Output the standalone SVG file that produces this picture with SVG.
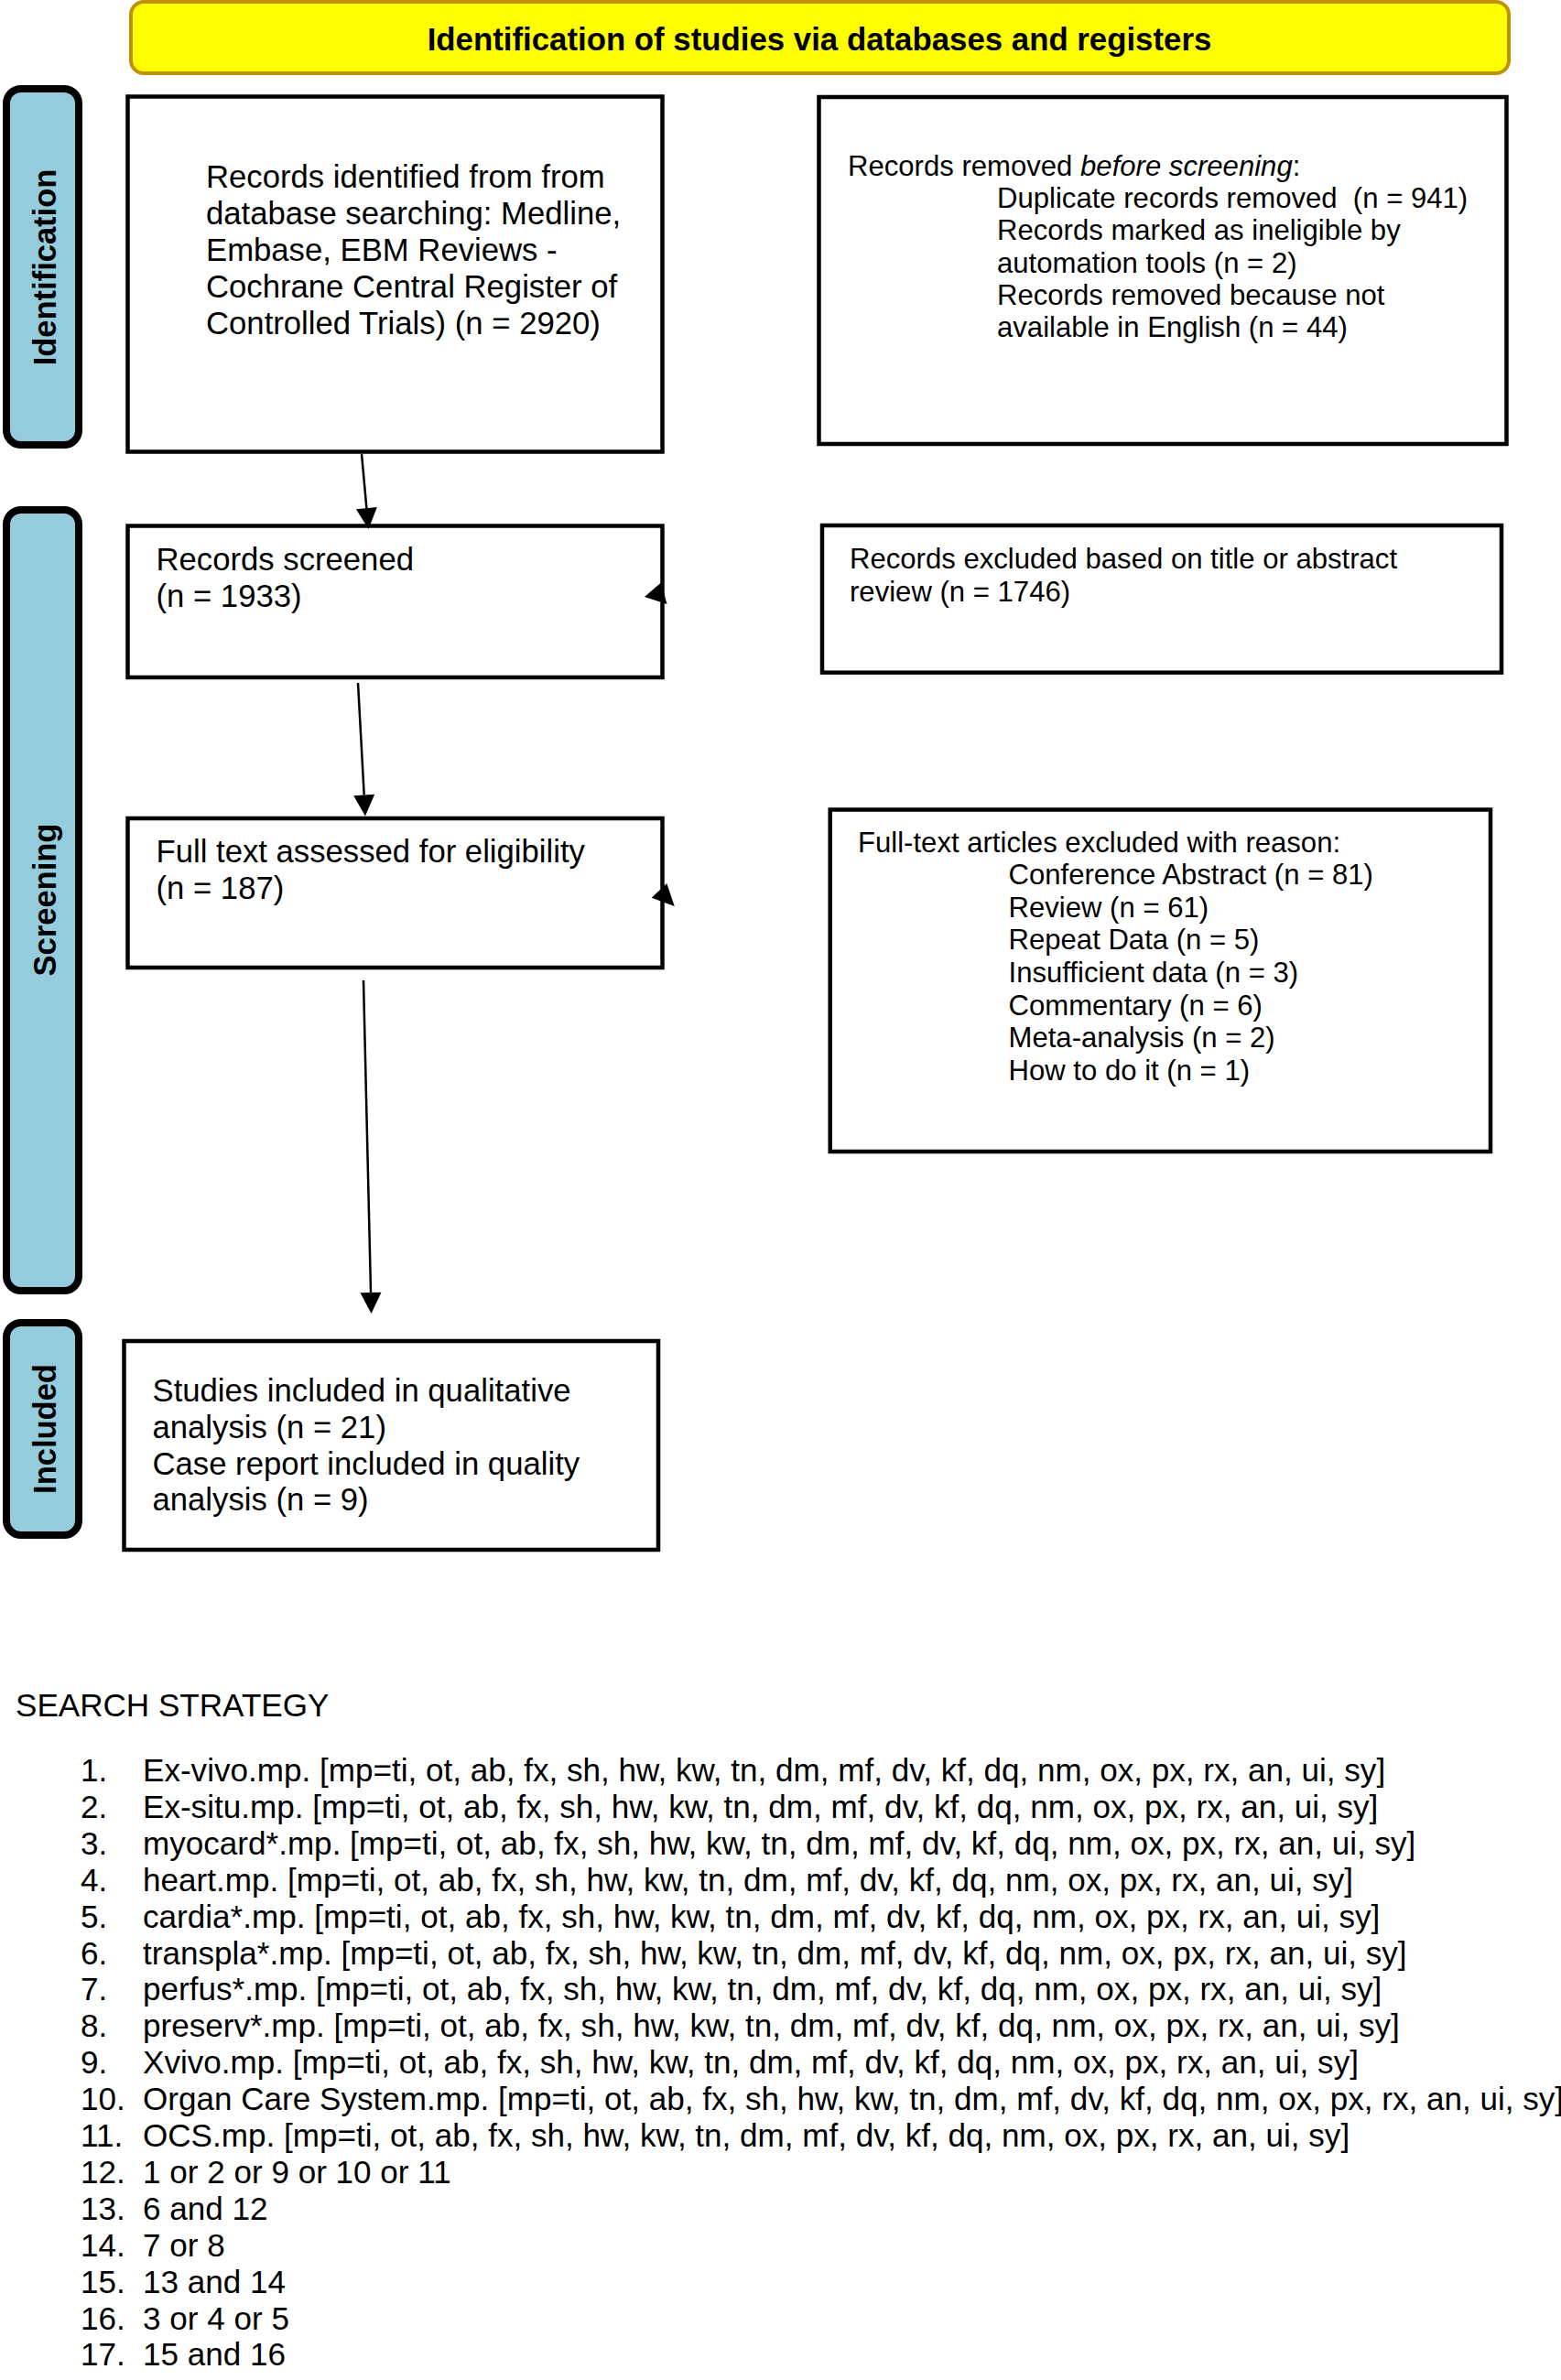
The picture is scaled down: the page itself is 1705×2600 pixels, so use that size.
<svg xmlns="http://www.w3.org/2000/svg" width="1705" height="2600" viewBox="0 0 1705 2600">
<style>
text{font-family:"Liberation Sans",Arial,sans-serif;fill:#000}
.big{font-size:34.7px}
.list{font-size:35.1px}
.sm{font-size:31.1px}
.side{font-size:34.5px;font-weight:bold;text-anchor:middle}
.box{fill:#fff;stroke:#000;stroke-width:4.5}
.bar{fill:#95CCDD;stroke:#000;stroke-width:8}
.con{stroke:#000;stroke-width:2.5;fill:none;marker-end:url(#ah)}
</style>
<defs>
<marker id="ah" markerUnits="userSpaceOnUse" markerWidth="24" markerHeight="24" refX="0" refY="11.5" orient="auto" viewBox="0 0 24 24" overflow="visible">
<path d="M0,0 L23,11.5 L0,23 z" fill="#000"/>
</marker>
</defs>
<rect width="1705" height="2600" fill="#fff"/>

<g id="banner">
<rect x="143" y="2" width="1505" height="78" rx="14" fill="#FFFF00" stroke="#BF9000" stroke-width="4"/>
<text x="895" y="54.5" font-size="34.8" font-weight="bold" text-anchor="middle">Identification of studies via databases and registers</text>
</g>

<g id="bar-identification">
<rect class="bar" x="7" y="97" width="79" height="389" rx="16"/>
<text class="side" transform="translate(60.5,292) rotate(-90)">Identification</text>
</g>
<g id="bar-screening">
<rect class="bar" x="7" y="557" width="79" height="853" rx="16"/>
<text class="side" transform="translate(61,983) rotate(-90)">Screening</text>
</g>
<g id="bar-included">
<rect class="bar" x="7" y="1445" width="79" height="232" rx="16"/>
<text class="side" transform="translate(61,1561) rotate(-90)">Included</text>
</g>

<g id="records-identified">
<rect class="box" x="139.5" y="105.5" width="584" height="388"/>
<text class="big"><tspan x="225" y="205">Records identified from from</tspan><tspan x="225" y="245">database searching: Medline,</tspan><tspan x="225" y="285">Embase, EBM Reviews -</tspan><tspan x="225" y="325">Cochrane Central Register of</tspan><tspan x="225" y="365">Controlled Trials) (n = 2920)</tspan></text>
</g>

<g id="records-removed">
<rect class="box" x="894.5" y="106" width="751" height="379"/>
<text class="sm" style="white-space:pre"><tspan x="926" y="192">Records removed <tspan font-style="italic">before screening</tspan>:</tspan><tspan x="1089" y="227.2">Duplicate records removed  (n = 941)</tspan><tspan x="1089" y="262.4">Records marked as ineligible by</tspan><tspan x="1089" y="297.6">automation tools (n = 2)</tspan><tspan x="1089" y="332.8">Records removed because not</tspan><tspan x="1089" y="368">available in English (n = 44)</tspan></text>
</g>

<g id="records-screened">
<rect class="box" x="139.5" y="574.5" width="584" height="165.5"/>
<text class="big"><tspan x="170.5" y="623">Records screened</tspan><tspan x="170.5" y="663">(n = 1933)</tspan></text>
</g>

<g id="records-excluded">
<rect class="box" x="898" y="574" width="742" height="160.7"/>
<text class="sm"><tspan x="928" y="620.5">Records excluded based on title or abstract</tspan><tspan x="928" y="656.5">review (n = 1746)</tspan></text>
</g>

<g id="full-text">
<rect class="box" x="139.5" y="894" width="584" height="163"/>
<text class="big"><tspan x="170.5" y="941.5">Full text assessed for eligibility</tspan><tspan x="170.5" y="981.5">(n = 187)</tspan></text>
</g>

<g id="full-text-excluded">
<rect class="box" x="906.7" y="884.5" width="721.3" height="373.5"/>
<text class="sm"><tspan x="937" y="930.5">Full-text articles excluded with reason:</tspan><tspan x="1101.5" y="966.2">Conference Abstract (n = 81)</tspan><tspan x="1101.5" y="1001.8">Review (n = 61)</tspan><tspan x="1101.5" y="1037.4">Repeat Data (n = 5)</tspan><tspan x="1101.5" y="1073">Insufficient data (n = 3)</tspan><tspan x="1101.5" y="1108.6">Commentary (n = 6)</tspan><tspan x="1101.5" y="1144.2">Meta-analysis (n = 2)</tspan><tspan x="1101.5" y="1179.8">How to do it (n = 1)</tspan></text>
</g>

<g id="included">
<rect class="box" x="135.5" y="1465" width="583.5" height="228"/>
<text class="big"><tspan x="166.5" y="1531">Studies included in qualitative</tspan><tspan x="166.5" y="1571">analysis (n = 21)</tspan><tspan x="166.5" y="1610.5">Case report included in quality</tspan><tspan x="166.5" y="1650">analysis (n = 9)</tspan></text>
</g>

<g id="connectors">
<path class="con" d="M395,496 L400.4,555.1"/>
<path class="con" d="M391,746 L397.7,868.5"/>
<path class="con" d="M397,1071 L405,1412"/>
<polygon points="704,652 722,636.5 728.5,660" fill="#000"/>
<polygon points="711.7,980.7 728.3,965 736.7,990" fill="#000"/>
</g>

<g id="search-strategy">
<text class="list" x="17" y="1875">SEARCH STRATEGY</text>
<text class="list">
<tspan x="88" y="1946">1.</tspan><tspan x="156" y="1946">Ex-vivo.mp. [mp=ti, ot, ab, fx, sh, hw, kw, tn, dm, mf, dv, kf, dq, nm, ox, px, rx, an, ui, sy]</tspan>
<tspan x="88" y="1985.9">2.</tspan><tspan x="156" y="1985.9">Ex-situ.mp. [mp=ti, ot, ab, fx, sh, hw, kw, tn, dm, mf, dv, kf, dq, nm, ox, px, rx, an, ui, sy]</tspan>
<tspan x="88" y="2025.8">3.</tspan><tspan x="156" y="2025.8">myocard*.mp. [mp=ti, ot, ab, fx, sh, hw, kw, tn, dm, mf, dv, kf, dq, nm, ox, px, rx, an, ui, sy]</tspan>
<tspan x="88" y="2065.7">4.</tspan><tspan x="156" y="2065.7">heart.mp. [mp=ti, ot, ab, fx, sh, hw, kw, tn, dm, mf, dv, kf, dq, nm, ox, px, rx, an, ui, sy]</tspan>
<tspan x="88" y="2105.6">5.</tspan><tspan x="156" y="2105.6">cardia*.mp. [mp=ti, ot, ab, fx, sh, hw, kw, tn, dm, mf, dv, kf, dq, nm, ox, px, rx, an, ui, sy]</tspan>
<tspan x="88" y="2145.5">6.</tspan><tspan x="156" y="2145.5">transpla*.mp. [mp=ti, ot, ab, fx, sh, hw, kw, tn, dm, mf, dv, kf, dq, nm, ox, px, rx, an, ui, sy]</tspan>
<tspan x="88" y="2185.4">7.</tspan><tspan x="156" y="2185.4">perfus*.mp. [mp=ti, ot, ab, fx, sh, hw, kw, tn, dm, mf, dv, kf, dq, nm, ox, px, rx, an, ui, sy]</tspan>
<tspan x="88" y="2225.3">8.</tspan><tspan x="156" y="2225.3">preserv*.mp. [mp=ti, ot, ab, fx, sh, hw, kw, tn, dm, mf, dv, kf, dq, nm, ox, px, rx, an, ui, sy]</tspan>
<tspan x="88" y="2265.2">9.</tspan><tspan x="156" y="2265.2">Xvivo.mp. [mp=ti, ot, ab, fx, sh, hw, kw, tn, dm, mf, dv, kf, dq, nm, ox, px, rx, an, ui, sy]</tspan>
<tspan x="88" y="2305.1">10.</tspan><tspan x="156" y="2305.1">Organ Care System.mp. [mp=ti, ot, ab, fx, sh, hw, kw, tn, dm, mf, dv, kf, dq, nm, ox, px, rx, an, ui, sy]</tspan>
<tspan x="88" y="2345">11.</tspan><tspan x="156" y="2345">OCS.mp. [mp=ti, ot, ab, fx, sh, hw, kw, tn, dm, mf, dv, kf, dq, nm, ox, px, rx, an, ui, sy]</tspan>
<tspan x="88" y="2384.9">12.</tspan><tspan x="156" y="2384.9">1 or 2 or 9 or 10 or 11</tspan>
<tspan x="88" y="2424.8">13.</tspan><tspan x="156" y="2424.8">6 and 12</tspan>
<tspan x="88" y="2464.7">14.</tspan><tspan x="156" y="2464.7">7 or 8</tspan>
<tspan x="88" y="2504.6">15.</tspan><tspan x="156" y="2504.6">13 and 14</tspan>
<tspan x="88" y="2544.5">16.</tspan><tspan x="156" y="2544.5">3 or 4 or 5</tspan>
<tspan x="88" y="2584.4">17.</tspan><tspan x="156" y="2584.4">15 and 16</tspan>
</text>
</g>
</svg>
